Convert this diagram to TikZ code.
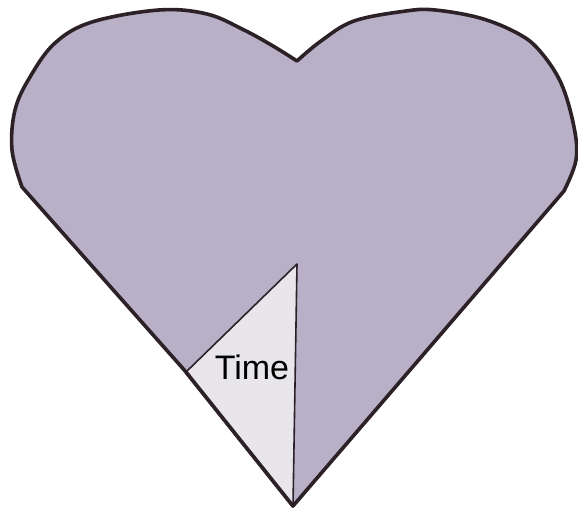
\documentclass[tikz,border=0pt]{standalone}
\usepackage{fontspec}
\setsansfont{Liberation Sans}
\usetikzlibrary{calc}
\definecolor{clilac}{HTML}{B7B0C7}
\definecolor{cpale}{HTML}{E8E6EB}
\definecolor{cink}{HTML}{2B2127}
\tikzset{
  every picture/.style={font=\sffamily},
  heart/.style={draw=cink, fill=clilac, line width=3.6pt, line join=round},
  wedge/.style={draw=cink, fill=cpale, line width=1.6pt, line join=round},
  label/.style={font=\sffamily\fontsize{34}{40}\selectfont, text=black, inner sep=0pt},
}
\begin{document}
\begin{tikzpicture}[x=1pt, y=-1pt]
  \useasboundingbox (0,0) rectangle (578,510);
  \coordinate (tip) at (293,506);
  \coordinate (cusp) at (297,61);
  \coordinate (lcorner) at (22,187);
  \coordinate (rcorner) at (564,191);
  \coordinate (ttop) at (297,264);
  \coordinate (tleft) at (186,372);
  % heart
  \draw[heart] (tip) -- (tleft) -- (lcorner)
    -- plot[smooth, tension=0.6] coordinates {(22,187) (12,150) (15,110) (30,77) (55,43) (92,22) (159,10) (207,14) (244,30) (273,46) (297,61)}
    -- plot[smooth, tension=0.6] coordinates {(297,61) (321,41) (354,21) (406,11) (435,10) (480,18) (517,33) (539,50) (561,83) (574,127) (576,160) (564,191)}
    -- cycle;
  % triangle
  \draw[wedge] (tip) -- (tleft) -- (ttop) -- cycle;
  \draw[cink, line width=3.6pt, line cap=round] (tleft) -- (tip);
  \node[label] (time) at (252,367) {Time};
\end{tikzpicture}
\end{document}
